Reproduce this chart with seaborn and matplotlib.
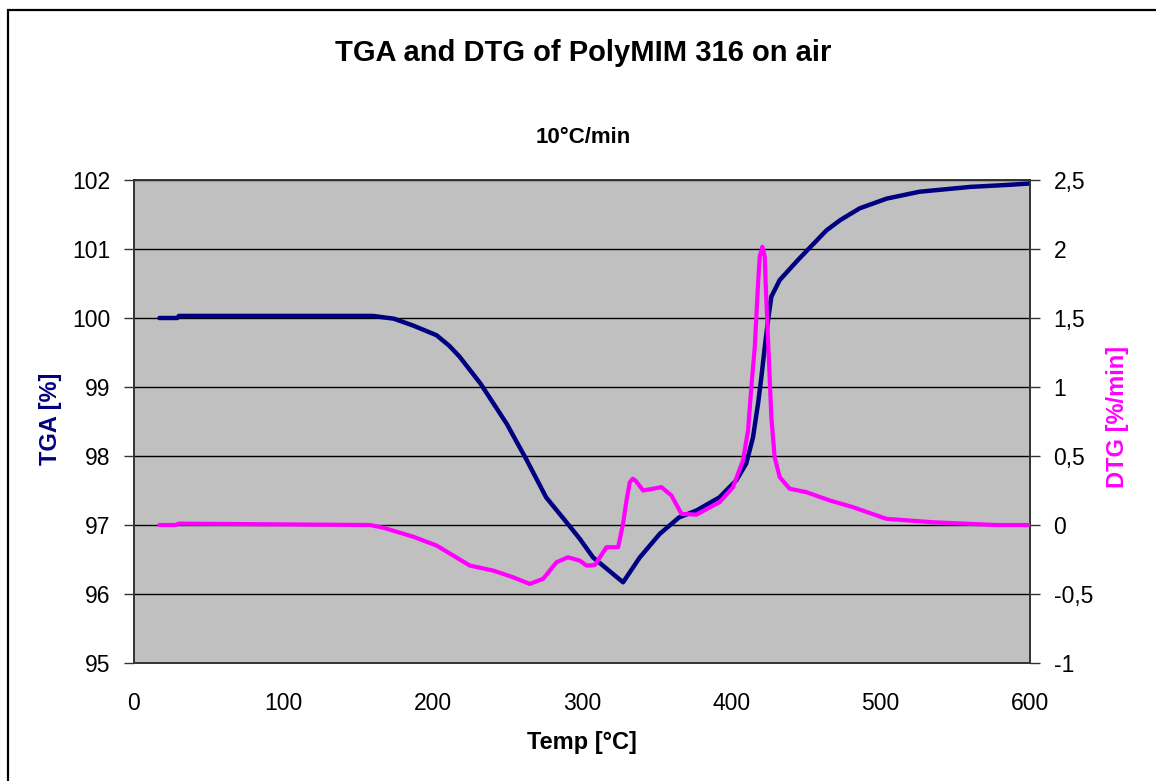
import matplotlib
matplotlib.use("Agg")
import matplotlib.pyplot as plt
import seaborn as sns
import pandas as pd
from matplotlib.patches import Rectangle
from matplotlib.ticker import FuncFormatter

# ---------------- data ----------------
tga_temp = [17, 29, 30, 160, 174, 187, 202.6, 211, 218, 232, 249.5, 263, 276,
            289.6, 298.5, 307.4, 320.8, 327.5, 338.7, 352, 365, 376.6, 392,
            403.4, 410, 414.5, 417.9, 420.1, 422.4, 424.6, 426.8, 432.4, 445,
            463.7, 473, 486, 504, 526, 560, 586, 600]
tga_val = [100.0, 100.0, 100.03, 100.03, 99.99, 99.89, 99.75, 99.6, 99.44, 99.05,
           98.47, 97.94, 97.40, 97.04, 96.80, 96.53, 96.29, 96.17, 96.53, 96.87,
           97.11, 97.21, 97.40, 97.65, 97.89, 98.27, 98.76, 99.14, 99.58, 99.97,
           100.31, 100.55, 100.85, 101.27, 101.42, 101.59, 101.73, 101.83, 101.90,
           101.93, 101.95]

dtg_temp = [17, 28, 30, 158, 167, 187, 202.6, 213.7, 224.9, 240.5, 253.9, 265,
            274, 282.9, 290.6, 298.5, 303, 308.6, 316.4, 324.2, 327.5, 329.8, 332,
            334, 336, 340.9, 353.2, 359.9, 366.6, 376.6, 392.2, 401.1, 407.8,
            411.2, 413.4, 415.7, 417.9, 419, 420.8, 422.4, 423, 424.6, 426.8, 429,
            432.4, 439, 450.2, 465.9, 481.5, 503.8, 535, 577, 600]
dtg_val = [0.0, 0.0, 0.01, 0.0, -0.02, -0.085, -0.149, -0.221, -0.294, -0.330,
           -0.379, -0.427, -0.39, -0.27, -0.234, -0.258, -0.294, -0.29, -0.161,
           -0.161, 0.009, 0.178, 0.31, 0.335, 0.32, 0.25, 0.274, 0.214, 0.081,
           0.075, 0.166, 0.274, 0.468, 0.686, 1.0, 1.29, 1.75, 1.944, 2.016, 1.944,
           1.75, 1.339, 0.782, 0.492, 0.347, 0.263, 0.238, 0.178, 0.129, 0.045,
           0.02, 0.0, 0.0]

x_ticks = [0, 100, 200, 300, 400, 500, 600]
tga_ticks = [95, 96, 97, 98, 99, 100, 101, 102]
dtg_ticks = [-1, -0.5, 0, 0.5, 1, 1.5, 2, 2.5]

title = "TGA and DTG of PolyMIM 316 on air"
subtitle = "10°C/min"
xlabel = "Temp [°C]"
ylabel_left = "TGA [%]"
ylabel_right = "DTG [%/min]"

# ---------------- style ----------------
sns.set_style("white")
plt.rcParams['font.family'] = ['Liberation Sans', 'DejaVu Sans']
plt.rcParams['text.color'] = 'black'
plt.rcParams['axes.labelcolor'] = 'black'
plt.rcParams['xtick.color'] = 'black'
plt.rcParams['ytick.color'] = 'black'

NAVY = "#000080"
MAGENTA = "#FF00FF"

fig = plt.figure(figsize=(11.56, 7.81), dpi=100)
ax = fig.add_axes([134/1156, 1 - 663/781, (1030-134)/1156, (663-180)/781])
ax.set_facecolor("#C0C0C0")

tga_df = pd.DataFrame({"Temp": tga_temp, "TGA": tga_val})
dtg_df = pd.DataFrame({"Temp": dtg_temp, "DTG": dtg_val})

sns.lineplot(data=tga_df, x="Temp", y="TGA", ax=ax, color=NAVY, lw=3.2,
             estimator=None, zorder=3)
ax.set_xlim(0, 600)
ax.set_ylim(95, 102)
ax.set_xticks(x_ticks)
ax.set_yticks(tga_ticks)
ax.yaxis.grid(True, color="black", lw=1.0)
ax.xaxis.grid(False)
ax.set_axisbelow(True)

ax2 = ax.twinx()
sns.lineplot(data=dtg_df, x="Temp", y="DTG", ax=ax2, color=MAGENTA, lw=3.0,
             estimator=None, zorder=4)
ax2.set_ylim(-1, 2.5)
ax2.set_yticks(dtg_ticks)
ax2.yaxis.set_major_formatter(FuncFormatter(lambda v, p: f"{v:g}".replace(".", ",")))

for a in (ax, ax2):
    for s in a.spines.values():
        s.set_color("#333333")
        s.set_linewidth(1.2)

ax.tick_params(axis="both", direction="out", length=7, width=1, color="#333333",
               labelsize=16.5, pad=10)
ax.tick_params(axis="x", pad=14)
ax2.tick_params(axis="y", direction="out", length=7, width=1, color="#333333",
                labelsize=16.5, pad=10)

ax.set_xlabel(xlabel, fontsize=17, fontweight="bold")
ax.xaxis.set_label_coords(0.5, -(743 - 663) / 483, transform=ax.transAxes)
ax.xaxis.label.set_va("center")
ax.set_ylabel(ylabel_left, fontsize=17, fontweight="bold", color=NAVY)
ax.yaxis.set_label_coords((50 - 134) / 896, 0.505)
ax.yaxis.label.set_va("center")
ax2.set_ylabel(ylabel_right, fontsize=17, fontweight="bold", color=MAGENTA)
ax2.yaxis.set_label_coords((1117.5 - 134) / 896, 0.51)
ax2.yaxis.label.set_va("center")

fig.text(583/1156, 1 - 53/781, title, ha="center", va="center",
         fontsize=21, fontweight="bold")
fig.text(583/1156, 1 - 137.5/781, subtitle, ha="center", va="center",
         fontsize=16, fontweight="bold")

# outer chart border
fig.patches.append(Rectangle((8/1156, -0.05), 1.2, 1 - 10/781 + 0.05,
                             transform=fig.transFigure, fill=False,
                             edgecolor="black", lw=1.6))

fig.savefig("out.png", dpi=100, facecolor="white")
